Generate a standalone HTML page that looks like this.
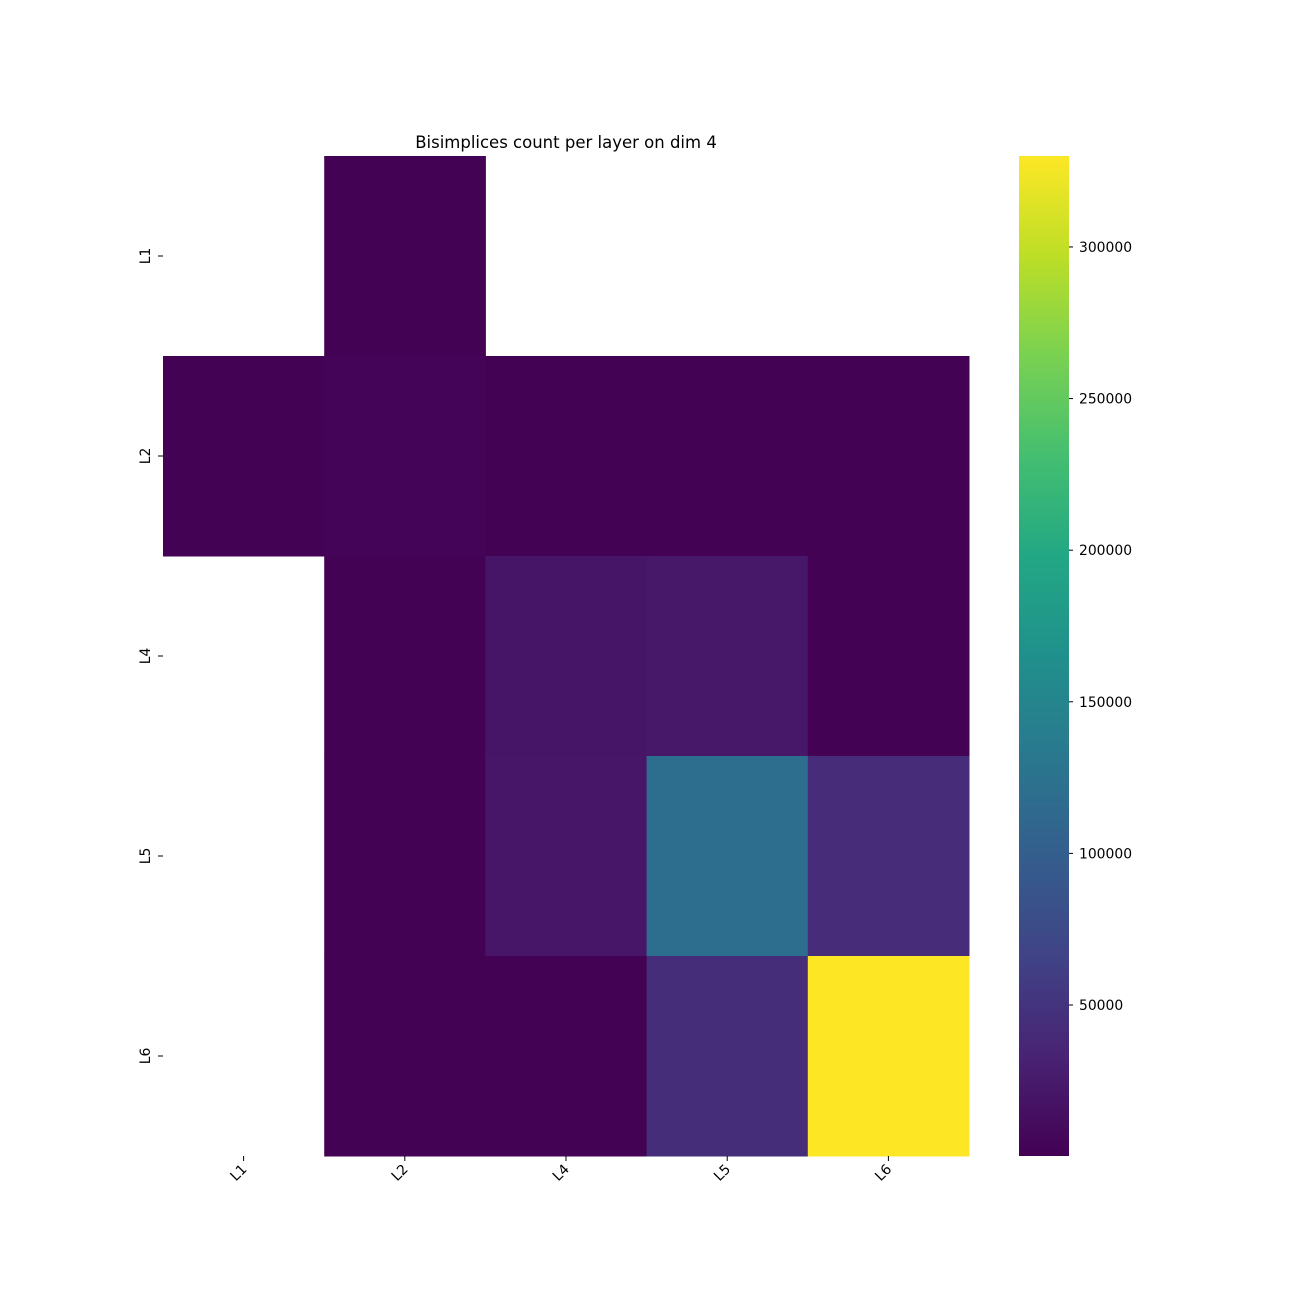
<!DOCTYPE html>
<html><head><meta charset="utf-8"><style>
html,body{margin:0;padding:0;background:#fff;}
svg text{font-family:"DejaVu Sans","Liberation Sans",sans-serif;fill:#000;}
</style></head><body>
<svg id="chart" width="1300" height="1300" xmlns="http://www.w3.org/2000/svg">
<defs><linearGradient id="cbgrad" x1="0" y1="1" x2="0" y2="0"></linearGradient></defs>
<text x="566" y="148" font-size="16.5" text-anchor="middle">Bisimplices count per layer on dim 4</text>
<g id="cells"></g><g id="axes"></g><g id="cbar"></g>
</svg>
<script>
const rowLabels = ["L1","L2","L4","L5","L6"];
const colLabels = ["L1","L2","L4","L5","L6"];
const values = [
  [null, 1500, null, null, null],
  [1200, 3500, 1500, 1200, 1200],
  [null, 1200, 20000, 22000, 1200],
  [null, 1000, 21000, 119000, 42000],
  [null, 1000, 1000, 44000, 330000]
];
const cbTicks = [50000,100000,150000,200000,250000,300000];
const vmin = 200, vmax = 330000;

const V=[[68,1,84],[72,35,116],[64,67,135],[52,94,141],[41,120,142],[32,144,140],[34,167,132],[68,190,112],[121,209,81],[189,222,38],[253,231,37]];
function viridis(t){t=Math.max(0,Math.min(1,t));const s=t*10,i=Math.min(9,Math.floor(s)),f=s-i;
 const c=V[i].map((a,k)=>Math.round(a+(V[i+1][k]-a)*f));return `rgb(${c[0]},${c[1]},${c[2]})`;}
const NS="http://www.w3.org/2000/svg";
const X0=163,X1=969,Y0=156,Y1=1156;
const cw=(X1-X0)/colLabels.length, rh=(Y1-Y0)/rowLabels.length;
const xPos=j=>X0+j*cw, yPos=i=>Y0+i*rh;
function mk(tag,attrs,parent){const e=document.createElementNS(NS,tag);for(const k in attrs)e.setAttribute(k,attrs[k]);parent.appendChild(e);return e;}
const cells=document.getElementById('cells'),axes=document.getElementById('axes'),cb=document.getElementById('cbar');
values.forEach((row,i)=>row.forEach((v,j)=>{if(v===null)return;
 const r=mk('rect',{x:xPos(j),y:yPos(i),width:cw+0.5,height:rh+0.5,fill:viridis((v-vmin)/(vmax-vmin))},cells);
 
 }));
rowLabels.forEach((l,i)=>{const y=yPos(i)+rh/2;
 mk('line',{x1:158,x2:163,y1:y,y2:y,stroke:'#000','stroke-width':1},axes);
 const t=mk('text',{x:0,y:0,'font-size':13.9,'text-anchor':'middle',transform:`translate(150,${y}) rotate(-90)`},axes);t.textContent=l;
 
 });
colLabels.forEach((l,j)=>{const x=xPos(j)+cw/2;
 mk('line',{x1:x,x2:x,y1:1156,y2:1161,stroke:'#000','stroke-width':1},axes);
 const t=mk('text',{x:0,y:0,'font-size':13.9,'text-anchor':'end',transform:`translate(${x+4},${1170}) rotate(-45)`},axes);t.textContent=l;
 
 });
const g=document.getElementById('cbgrad');
for(let k=0;k<=20;k++)mk('stop',{offset:(k/20),'stop-color':viridis(k/20)},g);
const cbr=mk('rect',{x:1019,y:156,width:50,height:1000,fill:'url(#cbgrad)'},cb);


cbTicks.forEach(v=>{const y=1156-(v-vmin)/(vmax-vmin)*1000;
 mk('line',{x1:1069,x2:1073,y1:y,y2:y,stroke:'#000','stroke-width':1},cb);
 const t=mk('text',{x:1079,y:y+5,'font-size':13.9},cb);t.textContent=v;
 
 });
</script>
</body></html>
